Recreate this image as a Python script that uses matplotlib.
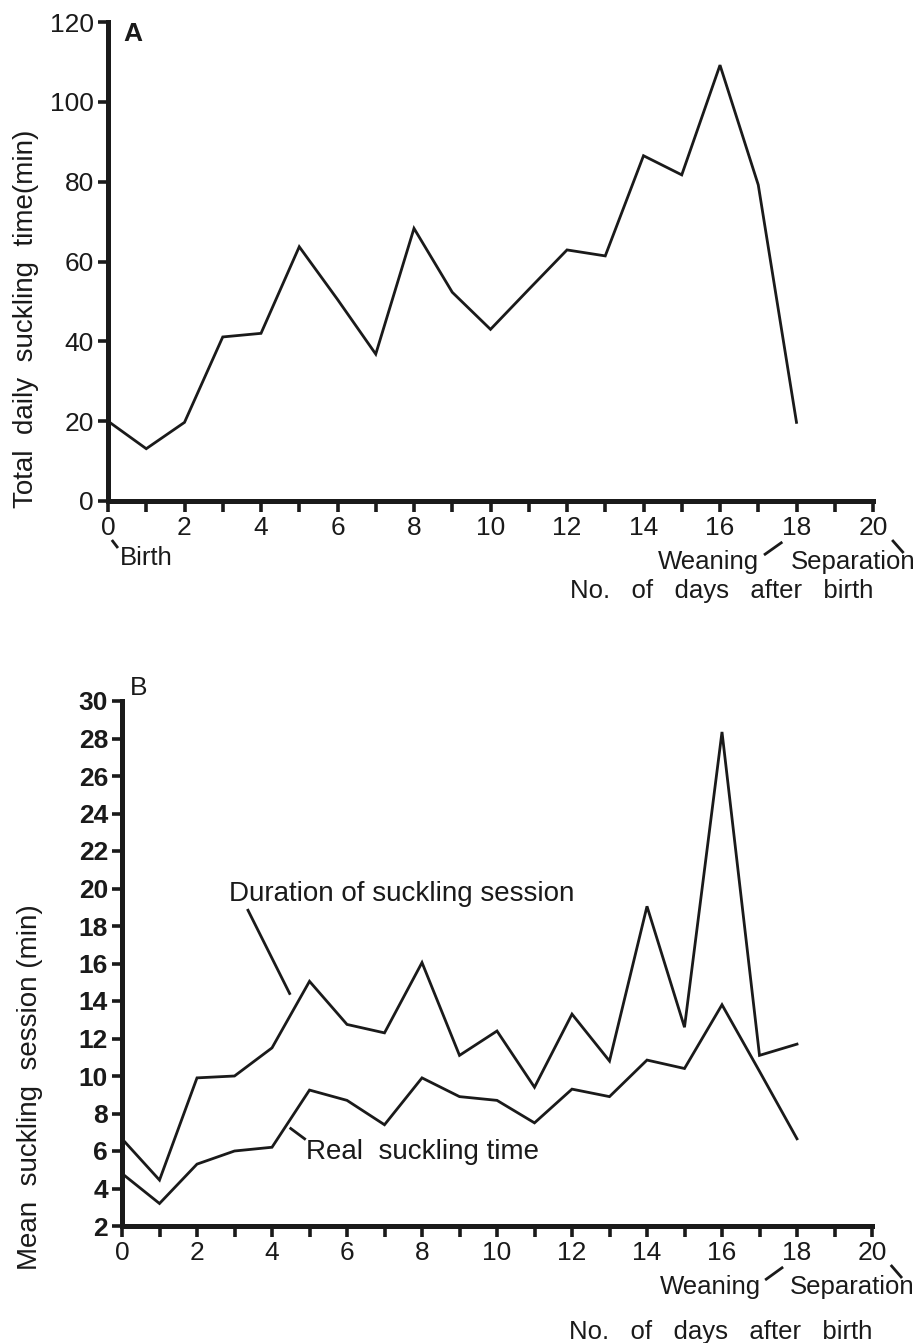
import numpy as np
import matplotlib
matplotlib.use("Agg")
import matplotlib.pyplot as plt
from matplotlib import transforms

plt.rcParams['font.family'] = ['Liberation Sans', 'DejaVu Sans']

# days after birth
days = list(range(0, 19))

# panel A: total daily suckling time (min)
total_time = [20.0, 13.1, 19.7, 41.1, 42.0, 63.7, 50.5, 36.8, 68.3, 52.3,
              43.0, 53.0, 62.9, 61.4, 86.5, 81.7, 109.2, 79.2, 19.7]

# panel B: mean suckling session (min)
session_duration = [6.65, 4.45, 9.9, 10.0, 11.5, 15.05, 12.75, 12.3, 16.05, 11.1,
                    12.4, 9.4, 13.3, 10.8, 19.05, 12.6, 28.35, 11.1, 11.7]
real_suckling = [4.8, 3.2, 5.3, 6.0, 6.2, 9.25, 8.7, 7.4, 9.9, 8.9,
                 8.7, 7.5, 9.3, 8.9, 10.85, 10.4, 13.8, 10.25, 6.65]

x_major = list(range(0, 21, 2))
x_minor = list(range(0, 21))
yticks_a = list(range(0, 121, 20))
yticks_b = list(range(2, 31, 2))

W, H = 923, 1343
fig = plt.figure(figsize=(W / 100, H / 100), dpi=100)
fig.patch.set_facecolor('white')

ax_a = fig.add_axes([108 / W, 1 - 501 / H, 765 / W, 479 / H])
ax_b = fig.add_axes([122 / W, 1 - 1226 / H, 750 / W, 525 / H])

INK = '#1a1a1a'
LW_SPINE = 3.6
FS_TICK = 19
FS_TEXT = 20
FS_NOTE = 18.5


def style_axes(ax, yticks, ylim, bold=False):
    ax.set_xlim(0, 20)
    ax.set_ylim(*ylim)
    for s in ['top', 'right']:
        ax.spines[s].set_visible(False)
    for s in ['left', 'bottom']:
        ax.spines[s].set_linewidth(LW_SPINE)
        ax.spines[s].set_color(INK)
        ax.spines[s].set_capstyle('projecting')
    ax.set_xticks(x_major)
    ax.set_xticks(x_minor, minor=True)
    ax.set_yticks(yticks)
    ax.tick_params(axis='x', which='both', direction='out', length=8, width=2.6,
                   pad=3, labelsize=FS_TICK, color=INK, labelcolor=INK)
    ax.tick_params(axis='y', which='major', direction='out', length=7, width=2.6,
                   pad=3, labelsize=FS_TICK, color=INK, labelcolor=INK)
    for lbl in ax.get_yticklabels():
        lbl.set_fontweight('bold' if bold else 'normal')


def below(ax, x, px, text, **kw):
    # text placed px pixels under the x axis, at data x
    tr = transforms.blended_transform_factory(ax.transData, ax.transAxes)
    h = ax.get_position().height * H
    ax.text(x, -px / h, text, transform=tr, clip_on=False, color=INK, **kw)


def stroke(ax, x0, x1, px0, px1):
    tr = transforms.blended_transform_factory(ax.transData, ax.transAxes)
    h = ax.get_position().height * H
    ax.plot([x0, x1], [-px0 / h, -px1 / h], color=INK, lw=2.0,
            transform=tr, clip_on=False, solid_capstyle='butt')


def x_notes(ax, no_px):
    below(ax, 15.7, 61, 'Weaning', fontsize=FS_NOTE, ha='center', va='center')
    below(ax, 19.47, 61, 'Separation', fontsize=FS_NOTE, ha='center', va='center')
    stroke(ax, 17.15, 17.63, 54, 41)
    stroke(ax, 20.5, 20.8, 39, 52)
    below(ax, 20.0, no_px, 'No.   of   days   after   birth', fontsize=FS_NOTE,
          ha='right', va='center')


# ---- panel A ----
style_axes(ax_a, yticks_a, (0, 120))
ax_a.plot(days, total_time, color=INK, lw=2.0, clip_on=False,
          solid_joinstyle='miter')
ax_a.text(0.65, 117, 'A', fontsize=FS_TICK, fontweight='bold', color=INK,
          ha='center', va='center')
ax_a.set_ylabel('Total  daily  suckling  time(min)', fontsize=FS_TEXT, color=INK)
ax_a.yaxis.set_label_coords(-0.09, 0.38)
below(ax_a, 0.31, 57, 'Birth', fontsize=FS_NOTE, ha='left', va='center')
stroke(ax_a, 0.1, 0.26, 39, 47)
x_notes(ax_a, 90)

# ---- panel B ----
style_axes(ax_b, yticks_b, (2, 30), bold=True)
ax_b.plot(days, session_duration, color=INK, lw=2.0, clip_on=False,
          solid_joinstyle='miter')
ax_b.plot(days, real_suckling, color=INK, lw=2.0, clip_on=False,
          solid_joinstyle='miter')
ax_b.text(0.45, 30.7, 'B', fontsize=FS_TICK, color=INK, ha='center', va='center')
ax_b.set_ylabel('Mean  suckling  session (min)', fontsize=FS_TEXT, color=INK)
ax_b.yaxis.set_label_coords(-0.105, 0.265)

ax_b.text(2.85, 19.7, 'Duration of suckling session', fontsize=FS_TEXT,
          color=INK, ha='left', va='center')
ax_b.plot([3.36, 4.47], [18.84, 14.4], color=INK, lw=2.0)
ax_b.text(4.9, 5.93, 'Real  suckling time', fontsize=FS_TEXT, color=INK,
          ha='left', va='center')
ax_b.plot([4.5, 4.87], [7.2, 6.65], color=INK, lw=2.0)
x_notes(ax_b, 106)

fig.savefig('out.png', dpi=100, facecolor='white')
